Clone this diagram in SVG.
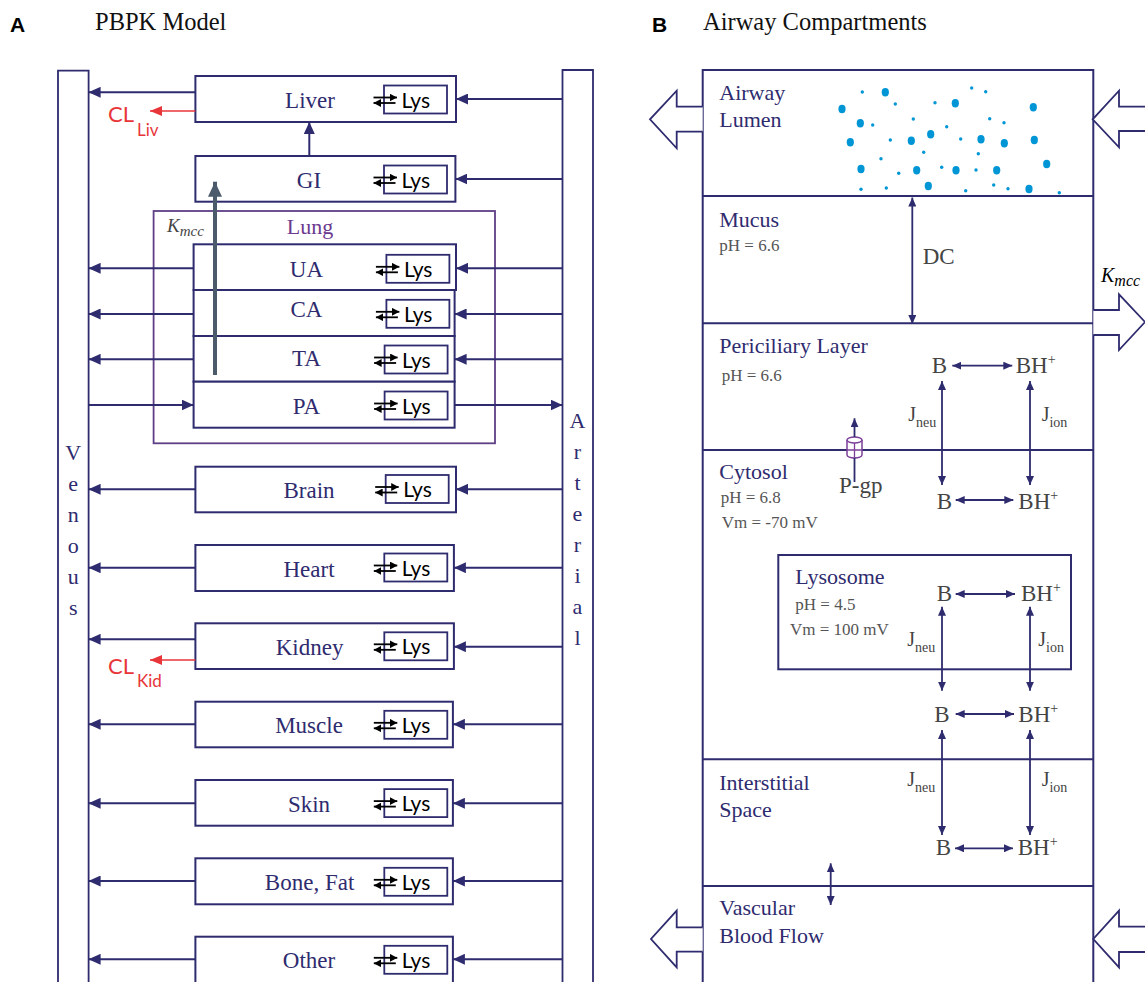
<svg xmlns="http://www.w3.org/2000/svg" xmlns:xlink="http://www.w3.org/1999/xlink" width="1145" height="982" viewBox="0 0 1145 982">
<style>
.box{fill:#fff;stroke:#2e2b6e;stroke-width:2}
.lb{fill:#fff;stroke:#2e2b6e;stroke-width:1.8}
.ln{stroke:#2e2b6e;stroke-width:2;fill:none}
.sl{stroke:#2e2b6e;stroke-width:1.8;fill:none}
.org{font-family:"Liberation Serif",serif;font-size:23px;fill:#2e2b6e;text-anchor:middle}
.lys{font-family:Lato,"Liberation Sans",sans-serif;font-size:21px;fill:#000}
.cl{font-family:Lato,"Liberation Sans",sans-serif;fill:#e8353a}
.vl{font-family:"Liberation Serif",serif;font-size:22px;fill:#2e2b6e;text-anchor:middle}
.hd{font-family:"Liberation Sans",sans-serif;font-weight:bold;font-size:21px;fill:#000}
.ttl{font-family:"Liberation Serif",serif;font-size:24.5px;fill:#111}
.sec{font-family:"Liberation Serif",serif;font-size:22px;fill:#2e2b6e}
.ph{font-family:"Liberation Serif",serif;font-size:17px;fill:#555}
.gt{font-family:"Liberation Serif",serif;font-size:23px;fill:#444}
.jt{font-family:"Liberation Serif",serif;font-size:20px;fill:#444}
.dot{fill:#0096d6}
</style>
<defs>
<marker id="ah" markerUnits="userSpaceOnUse" markerWidth="12" markerHeight="11" refX="12" refY="5.5" orient="auto-start-reverse"><path d="M0,0L12,5.5L0,11z" fill="#2e2b6e"/></marker>
<marker id="sa" markerUnits="userSpaceOnUse" markerWidth="9" markerHeight="8" refX="9" refY="4" orient="auto-start-reverse"><path d="M0,0L9,4L0,8z" fill="#2e2b6e"/></marker>
<marker id="ra" markerUnits="userSpaceOnUse" markerWidth="12" markerHeight="10" refX="12" refY="5" orient="auto"><path d="M0,0L12,5L0,10z" fill="#e8353a"/></marker>
<marker id="ba" markerUnits="userSpaceOnUse" markerWidth="7.5" markerHeight="8" refX="7.5" refY="4" orient="auto"><path d="M0,0L7.5,4L0,8z" fill="#000"/></marker>
<marker id="ga" markerUnits="userSpaceOnUse" markerWidth="15" markerHeight="14" refX="15" refY="7" orient="auto"><path d="M0,0L15,7L0,14z" fill="#4b5b6b"/></marker>
<g id="lysbox">
<rect class="lb" x="0" y="0" width="63" height="28"/>
<path d="M-10.5,12H13" stroke="#000" stroke-width="1.8" marker-end="url(#ba)"/>
<path d="M11.5,17.5H-10.5" stroke="#000" stroke-width="1.8" marker-end="url(#ba)"/>
<text class="lys" x="17.5" y="22">Lys</text>
</g>
</defs>
<rect width="1145" height="982" fill="#fff"/>

<!-- Panel A header -->
<text class="hd" x="10" y="32">A</text>
<text class="ttl" x="95" y="30">PBPK Model</text>

<!-- Venous / Arterial -->
<g id="venous">
<path class="sl" d="M58,990V70.7H88.6V990"/>
<text class="vl" x="73.2" y="460">V</text>
<text class="vl" x="73.2" y="491">e</text>
<text class="vl" x="73.2" y="522">n</text>
<text class="vl" x="73.2" y="553">o</text>
<text class="vl" x="73.2" y="584">u</text>
<text class="vl" x="73.2" y="615">s</text>
</g>
<g id="arterial">
<path class="sl" d="M562.5,990V70H593V990"/>
<text class="vl" x="577.5" y="428">A</text>
<text class="vl" x="577.5" y="459">r</text>
<text class="vl" x="577.5" y="490">t</text>
<text class="vl" x="577.5" y="521">e</text>
<text class="vl" x="577.5" y="552">r</text>
<text class="vl" x="577.5" y="583">i</text>
<text class="vl" x="577.5" y="614">a</text>
<text class="vl" x="577.5" y="645">l</text>
</g>

<!-- Lung container -->
<g id="lung">
<rect x="153.6" y="211" width="341.4" height="232.3" fill="none" stroke="#5e3f86" stroke-width="1.8"/>
<text x="310" y="234" font-family="Liberation Serif, serif" font-size="22" fill="#6b3a8e" text-anchor="middle">Lung</text>
<text x="167" y="232" font-family="Liberation Serif, serif" font-style="italic" font-size="19" fill="#444">K<tspan font-size="15" dy="4">mcc</tspan></text>
</g>

<!-- Organ nodes -->
<g id="liver"><rect class="box" x="195.4" y="76" width="260.6" height="46"/><text class="org" x="310" y="108">Liver</text><use xlink:href="#lysbox" x="384" y="85.5"/></g>
<g id="gi"><rect class="box" x="195.4" y="156" width="260" height="45.7"/><text class="org" x="309" y="187.5">GI</text><use xlink:href="#lysbox" x="384" y="165.5"/></g>
<g id="ua"><rect class="box" x="193.6" y="244.3" width="262.4" height="45.7"/><text class="org" x="306.4" y="276.5">UA</text><use xlink:href="#lysbox" x="386.4" y="254.8"/></g>
<g id="ca"><rect class="box" x="193.6" y="290" width="261" height="46"/><text class="org" x="306.4" y="317.3">CA</text><use xlink:href="#lysbox" x="386.4" y="299.8"/></g>
<g id="ta"><rect class="box" x="193.6" y="336" width="261" height="45.7"/><text class="org" x="306.4" y="366">TA</text><use xlink:href="#lysbox" x="384.6" y="345.5"/></g>
<g id="pa"><rect class="box" x="193.6" y="381.7" width="261" height="46"/><text class="org" x="306.4" y="414">PA</text><use xlink:href="#lysbox" x="384.6" y="391.5"/></g>
<g id="brain"><rect class="box" x="195.4" y="466.7" width="260.6" height="45.6"/><text class="org" x="309" y="498">Brain</text><use xlink:href="#lysbox" x="385.7" y="475"/></g>
<g id="heart"><rect class="box" x="195.4" y="545" width="258.5" height="46"/><text class="org" x="309" y="576.5">Heart</text><use xlink:href="#lysbox" x="384.3" y="553.5"/></g>
<g id="kidney"><rect class="box" x="195.4" y="623.3" width="258.5" height="45.7"/><text class="org" x="309.6" y="655">Kidney</text><use xlink:href="#lysbox" x="384.3" y="632.3"/></g>
<g id="muscle"><rect class="box" x="195.4" y="701.7" width="257.5" height="45.6"/><text class="org" x="309" y="733">Muscle</text><use xlink:href="#lysbox" x="384.3" y="710.8"/></g>
<g id="skin"><rect class="box" x="195.4" y="780" width="257.5" height="45.7"/><text class="org" x="309" y="811.5">Skin</text><use xlink:href="#lysbox" x="384.3" y="789.1"/></g>
<g id="bonefat"><rect class="box" x="195.4" y="858.3" width="257.5" height="46"/><text class="org" x="309.6" y="890">Bone, Fat</text><use xlink:href="#lysbox" x="384.3" y="867.8"/></g>
<g id="other"><rect class="box" x="195.4" y="936.7" width="257.5" height="60"/><text class="org" x="309" y="968">Other</text><use xlink:href="#lysbox" x="384.3" y="945.8"/></g>

<!-- Clearance labels -->
<g id="clliv"><text class="cl" x="108" y="122" font-size="22">CL</text><text class="cl" x="137" y="135.5" font-size="17">Liv</text></g>
<g id="clkid"><text class="cl" x="108" y="674" font-size="22">CL</text><text class="cl" x="137" y="687" font-size="17">Kid</text></g>

<!-- Connectors panel A -->
<g id="connectors-a">
<path class="ln" marker-end="url(#ah)" d="M195.4,92.3H88.6"/>
<path class="ln" marker-end="url(#ah)" d="M562.5,99H456"/>
<path stroke="#e8353a" stroke-width="1.6" marker-end="url(#ra)" d="M195.4,111H150"/>
<path class="ln" marker-end="url(#ah)" d="M309.3,156V122"/>
<path class="ln" marker-end="url(#ah)" d="M562.5,179H455.4"/>
<path class="ln" marker-end="url(#ah)" d="M193.6,268.3H88.6"/>
<path class="ln" marker-end="url(#ah)" d="M562.5,268.3H456"/>
<path class="ln" marker-end="url(#ah)" d="M193.6,314H88.6"/>
<path class="ln" marker-end="url(#ah)" d="M562.5,314H454.6"/>
<path class="ln" marker-end="url(#ah)" d="M193.6,359.3H88.6"/>
<path class="ln" marker-end="url(#ah)" d="M562.5,359.3H454.6"/>
<path class="ln" marker-end="url(#ah)" d="M88.6,405H193.6"/>
<path class="ln" marker-end="url(#ah)" d="M454.6,405H562.5"/>
<path class="ln" marker-end="url(#ah)" d="M195.4,489.3H88.6"/>
<path class="ln" marker-end="url(#ah)" d="M562.5,489.3H456"/>
<path class="ln" marker-end="url(#ah)" d="M195.4,567.7H88.6"/>
<path class="ln" marker-end="url(#ah)" d="M562.5,567.7H453.9"/>
<path class="ln" marker-end="url(#ah)" d="M195.4,639.3H88.6"/>
<path class="ln" marker-end="url(#ah)" d="M562.5,646.7H453.9"/>
<path stroke="#e8353a" stroke-width="1.6" marker-end="url(#ra)" d="M195.4,660H150"/>
<path class="ln" marker-end="url(#ah)" d="M195.4,724.3H88.6"/>
<path class="ln" marker-end="url(#ah)" d="M562.5,724.3H452.9"/>
<path class="ln" marker-end="url(#ah)" d="M195.4,803.3H88.6"/>
<path class="ln" marker-end="url(#ah)" d="M562.5,803.3H452.9"/>
<path class="ln" marker-end="url(#ah)" d="M195.4,881H88.6"/>
<path class="ln" marker-end="url(#ah)" d="M562.5,881H452.9"/>
<path class="ln" marker-end="url(#ah)" d="M195.4,959.3H88.6"/>
<path class="ln" marker-end="url(#ah)" d="M562.5,959.3H452.9"/>
<path stroke="#4b5b6b" stroke-width="4" fill="none" marker-end="url(#ga)" d="M215,375V181.7"/>
</g>

<!-- Panel B -->
<text class="hd" x="652" y="32">B</text>
<text class="ttl" x="703" y="30">Airway Compartments</text>

<g id="compartments">
<rect x="702.7" y="70" width="390.6" height="930" fill="none" stroke="#2e2b6e" stroke-width="2"/>
<path class="ln" d="M702.7,196H1093.3M702.7,323.3H1093.3M702.7,450H1093.3M702.7,759.3H1093.3M702.7,886H1093.3"/>
</g>

<g id="airway-lumen">
<text class="sec" x="719.3" y="100">Airway</text>
<text class="sec" x="719.3" y="126.7">Lumen</text>
<g id="dots">
<ellipse class="dot" cx="842" cy="109" rx="3.6" ry="4.2"/>
<ellipse class="dot" cx="885.3" cy="92.3" rx="3.6" ry="4.2"/>
<ellipse class="dot" cx="955.3" cy="103.3" rx="3.6" ry="4.2"/>
<ellipse class="dot" cx="1033.3" cy="107.3" rx="3.6" ry="4.2"/>
<ellipse class="dot" cx="860.3" cy="123.3" rx="3.6" ry="4.2"/>
<ellipse class="dot" cx="850.3" cy="142.3" rx="3.6" ry="4.2"/>
<ellipse class="dot" cx="911.3" cy="140.7" rx="3.6" ry="4.2"/>
<ellipse class="dot" cx="930.7" cy="134.3" rx="3.6" ry="4.2"/>
<ellipse class="dot" cx="981" cy="139.3" rx="3.6" ry="4.2"/>
<ellipse class="dot" cx="1004.3" cy="143.3" rx="3.6" ry="4.2"/>
<ellipse class="dot" cx="1034.3" cy="140" rx="3.6" ry="4.2"/>
<ellipse class="dot" cx="1046.7" cy="164" rx="3.6" ry="4.2"/>
<ellipse class="dot" cx="861" cy="169" rx="3.6" ry="4.2"/>
<ellipse class="dot" cx="916.7" cy="170.3" rx="3.6" ry="4.2"/>
<ellipse class="dot" cx="956" cy="170.3" rx="3.6" ry="4.2"/>
<ellipse class="dot" cx="996.7" cy="170.3" rx="3.6" ry="4.2"/>
<ellipse class="dot" cx="928.3" cy="186" rx="3.6" ry="4.2"/>
<ellipse class="dot" cx="1029" cy="189" rx="3.6" ry="4.2"/>
<circle class="dot" cx="862.3" cy="92" r="1.7"/>
<circle class="dot" cx="895.3" cy="104" r="1.7"/>
<circle class="dot" cx="935" cy="102.7" r="1.7"/>
<circle class="dot" cx="971.7" cy="88" r="1.7"/>
<circle class="dot" cx="985.7" cy="91.7" r="1.7"/>
<circle class="dot" cx="872.7" cy="125" r="1.7"/>
<circle class="dot" cx="913.3" cy="119" r="1.7"/>
<circle class="dot" cx="946.7" cy="126.7" r="1.7"/>
<circle class="dot" cx="989.7" cy="118.7" r="1.7"/>
<circle class="dot" cx="1004" cy="122.7" r="1.7"/>
<circle class="dot" cx="890.3" cy="140" r="1.7"/>
<circle class="dot" cx="960.7" cy="139" r="1.7"/>
<circle class="dot" cx="923.7" cy="152.3" r="1.7"/>
<circle class="dot" cx="978.3" cy="153.7" r="1.7"/>
<circle class="dot" cx="881" cy="158.7" r="1.7"/>
<circle class="dot" cx="898.7" cy="173.3" r="1.7"/>
<circle class="dot" cx="941.7" cy="167.3" r="1.7"/>
<circle class="dot" cx="976" cy="170" r="1.7"/>
<circle class="dot" cx="861" cy="189.3" r="1.7"/>
<circle class="dot" cx="886.3" cy="188" r="1.7"/>
<circle class="dot" cx="965.7" cy="190.7" r="1.7"/>
<circle class="dot" cx="993.7" cy="185" r="1.7"/>
<circle class="dot" cx="1008" cy="188.7" r="1.7"/>
<circle class="dot" cx="1059.3" cy="192.7" r="1.7"/>
</g>
</g>

<g id="mucus">
<text class="sec" x="719.3" y="226.7">Mucus</text>
<text class="ph" x="719.3" y="250.7">pH = 6.6</text>
<text class="gt" x="922.7" y="264">DC</text>
</g>

<g id="periciliary">
<text class="sec" x="719.3" y="353.3">Periciliary Layer</text>
<text class="ph" x="721.7" y="380.7">pH = 6.6</text>
<text class="gt" x="931.7" y="373.3">B</text>
<text class="gt" x="1015.7" y="373.3">BH<tspan font-size="14" dy="-9">+</tspan></text>
<text class="jt" x="908.3" y="421">J<tspan font-size="14" dy="6">neu</tspan></text>
<text class="jt" x="1041.7" y="421">J<tspan font-size="14" dy="6">ion</tspan></text>
</g>

<g id="pgp">
<path d="M847,440V455A7.5,3 0 0 0 862,455V440" fill="#fff" stroke="#7b3f98" stroke-width="1.5"/>
<ellipse cx="854.5" cy="440" rx="7.5" ry="3" fill="#fff" stroke="#7b3f98" stroke-width="1.5"/>
<path d="M854.5,443V458M847,450H862" stroke="#7b3f98" stroke-width="1.3"/>
<text class="gt" x="839" y="493.3">P-gp</text>
</g>

<g id="cytosol">
<text class="sec" x="719.3" y="479.3">Cytosol</text>
<text class="ph" x="720.7" y="503.3">pH = 6.8</text>
<text class="ph" x="721.7" y="528.3">Vm = -70 mV</text>
<text class="gt" x="936.7" y="509.3">B</text>
<text class="gt" x="1018.3" y="509.3">BH<tspan font-size="14" dy="-9">+</tspan></text>
<text class="gt" x="934.3" y="721.7">B</text>
<text class="gt" x="1018.3" y="721.7">BH<tspan font-size="14" dy="-9">+</tspan></text>
</g>

<g id="lysosome">
<rect x="778.3" y="555" width="292.7" height="114.3" fill="none" stroke="#2e2b6e" stroke-width="2"/>
<text class="sec" x="795.3" y="584">Lysosome</text>
<text class="ph" x="795.3" y="610">pH = 4.5</text>
<text class="ph" x="790" y="635">Vm = 100 mV</text>
<text class="gt" x="936.7" y="600.7">B</text>
<text class="gt" x="1021" y="600.7">BH<tspan font-size="14" dy="-9">+</tspan></text>
<text class="jt" x="907.3" y="646">J<tspan font-size="14" dy="6">neu</tspan></text>
<text class="jt" x="1038.3" y="646">J<tspan font-size="14" dy="6">ion</tspan></text>
</g>

<g id="interstitial">
<text class="sec" x="719.3" y="790">Interstitial</text>
<text class="sec" x="719.3" y="816.7">Space</text>
<text class="jt" x="907.3" y="785.5">J<tspan font-size="14" dy="6">neu</tspan></text>
<text class="jt" x="1041.7" y="785.5">J<tspan font-size="14" dy="6">ion</tspan></text>
<text class="gt" x="935.7" y="855">B</text>
<text class="gt" x="1017.7" y="855">BH<tspan font-size="14" dy="-9">+</tspan></text>
</g>

<g id="vascular">
<text class="sec" x="719.3" y="915">Vascular</text>
<text class="sec" x="719.3" y="942.7">Blood Flow</text>
</g>

<g id="flow-arrows">
<path d="M702.7,106.7H676.7V90.7L650,119.3L676.7,148.3V131.7H702.7" fill="#fff" stroke="#2e2b6e" stroke-width="1.8"/>
<path d="M1150,106.7H1119V90.7L1092.7,119.3L1119,147.3V131H1150" fill="#fff" stroke="#2e2b6e" stroke-width="1.8"/>
<path d="M1093.3,310H1119V294.3L1145,322L1119,350V335H1093.3" fill="#fff" stroke="#2e2b6e" stroke-width="1.8"/>
<text x="1101" y="282" font-family="Liberation Serif, serif" font-style="italic" font-size="20" fill="#000">K<tspan font-size="16" dy="4">mcc</tspan></text>
<path d="M702.7,927.3H676.7V910.7L651,939L676.7,967.3V951.7H702.7" fill="#fff" stroke="#2e2b6e" stroke-width="1.8"/>
<path d="M1150,926.7H1119V910.7L1093.3,939L1119,967.3V952H1150" fill="#fff" stroke="#2e2b6e" stroke-width="1.8"/>
</g>

<g id="connectors-b">
<path class="sl" marker-start="url(#sa)" marker-end="url(#sa)" d="M912.3,197.5V324"/>
<path class="sl" marker-start="url(#sa)" marker-end="url(#sa)" d="M952.3,365.7H1012.3"/>
<path class="sl" marker-start="url(#sa)" marker-end="url(#sa)" d="M942,381V485"/>
<path class="sl" marker-start="url(#sa)" marker-end="url(#sa)" d="M1030,381V485"/>
<path class="sl" marker-end="url(#sa)" d="M854.5,437V418.3"/>
<path class="sl" d="M854.5,458V482"/>
<path class="sl" marker-start="url(#sa)" marker-end="url(#sa)" d="M955.7,500H1013.3"/>
<path class="sl" marker-start="url(#sa)" marker-end="url(#sa)" d="M955.7,594H1015"/>
<path class="sl" marker-start="url(#sa)" marker-end="url(#sa)" d="M942,606.7V690.7"/>
<path class="sl" marker-start="url(#sa)" marker-end="url(#sa)" d="M1030,606.7V690.7"/>
<path class="sl" marker-start="url(#sa)" marker-end="url(#sa)" d="M955.7,714H1014"/>
<path class="sl" marker-start="url(#sa)" marker-end="url(#sa)" d="M942,730V835"/>
<path class="sl" marker-start="url(#sa)" marker-end="url(#sa)" d="M1030,730V835"/>
<path class="sl" marker-start="url(#sa)" marker-end="url(#sa)" d="M955,848.3H1013"/>
<path class="sl" marker-start="url(#sa)" marker-end="url(#sa)" d="M830.7,863.3V905"/>
</g>
</svg>
